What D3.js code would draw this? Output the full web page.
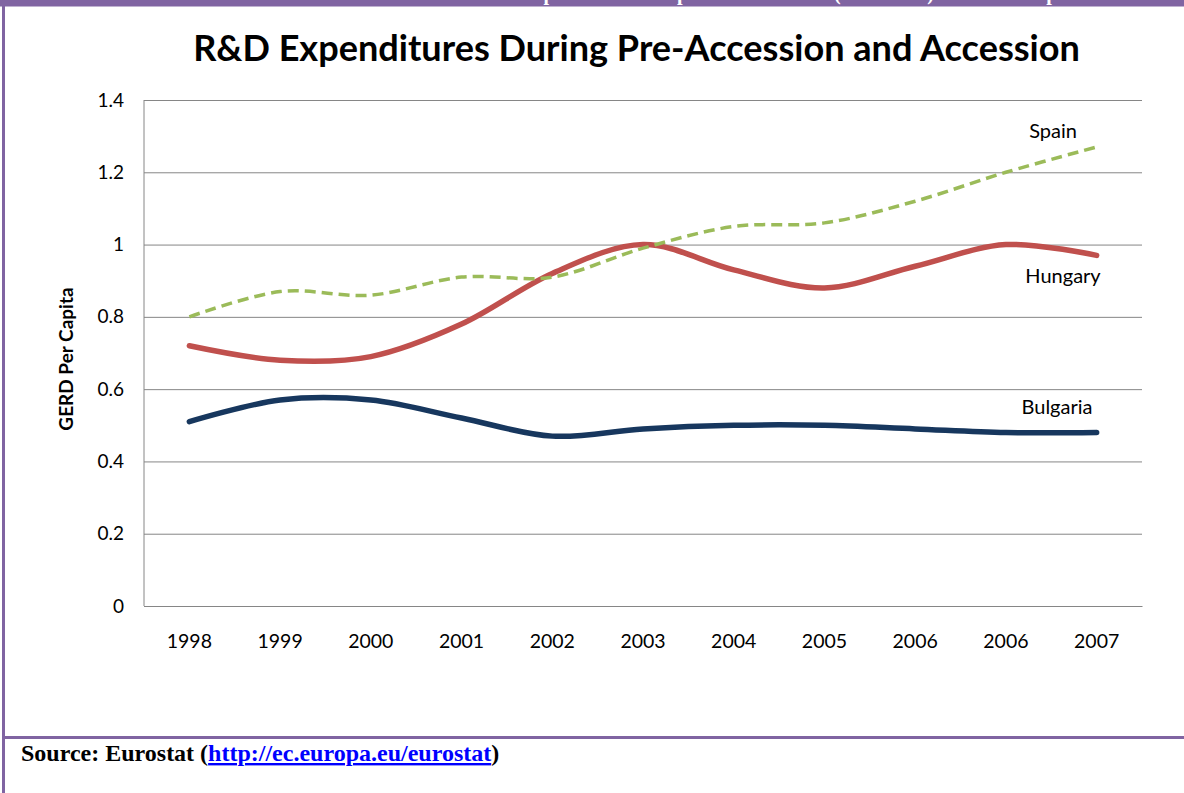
<!DOCTYPE html>
<html>
<head>
<meta charset="utf-8">
<script src="https://cdn.jsdelivr.net/npm/d3@7"></script>
<style>
  html, body { margin: 0; padding: 0; background: #fff; }
  svg { display: block; }
</style>
</head>
<body>
<svg id="page" width="1184" height="793"></svg>
<script>
// Categories along the x axis (the source lists 2006 twice)
const categories = ["1998", "1999", "2000", "2001", "2002", "2003", "2004", "2005", "2006", "2006", "2007"];

// GERD per capita values by country
const spain    = [0.80, 0.87, 0.86, 0.91, 0.91, 0.99, 1.05, 1.06, 1.12, 1.20, 1.27];
const hungary  = [0.72, 0.68, 0.69, 0.78, 0.92, 1.00, 0.93, 0.88, 0.94, 1.00, 0.97];
const bulgaria = [0.51, 0.57, 0.57, 0.52, 0.47, 0.49, 0.50, 0.50, 0.49, 0.48, 0.48];

// Value axis ticks
const yTicks = [0, 0.2, 0.4, 0.6, 0.8, 1, 1.2, 1.4];

const svg = d3.select("#page");
const W = 1184, H = 793;
const purple = "#8064A2";

// ---- Document frame: purple header bar, left rule, source separator ----
svg.append("rect").attr("x", 0).attr("y", 0).attr("width", W).attr("height", 6.5).attr("fill", purple);

// Header caption runs off the top of the page; only descenders remain visible
const header = svg.append("text")
  .attr("y", 0)
  .attr("fill", "#fff")
  .style("font-family", "'Liberation Serif', 'Times New Roman', serif")
  .style("font-weight", "bold")
  .style("font-size", "20px");
header.append("tspan").attr("x", 396).text("Table 3: R&D Expenditures");
header.append("tspan").attr("x", 677).text("per Inhabitant");
header.append("tspan").attr("x", 834).text("(1998-2007)");
header.append("tspan").attr("x", 1005).text("for Spain");

svg.append("rect").attr("x", 2).attr("y", 0).attr("width", 3).attr("height", H).attr("fill", purple);
svg.append("rect").attr("x", 2).attr("y", 736).attr("width", W - 2).attr("height", 3).attr("fill", purple);

// ---- Chart ----
const plot = { left: 144, right: 1142, top: 100, bottom: 606 };

const x = d3.scaleBand()
  .domain(d3.range(categories.length))
  .range([plot.left, plot.right])
  .paddingInner(0).paddingOuter(0);
const xc = i => x(i) + x.bandwidth() / 2;

const y = d3.scaleLinear().domain([0, 1.4]).range([plot.bottom, plot.top]);

const chartFont = "Lato, 'Open Sans', sans-serif";

// Title, sized to span the chart heading width
const title = svg.append("text")
  .attr("x", 636.5).attr("y", 61)
  .attr("text-anchor", "middle")
  .attr("fill", "#000")
  .style("font-family", chartFont)
  .style("font-weight", "bold")
  .style("font-size", "32px")
  .text("R&D Expenditures During Pre-Accession and Accession");
{
  const len = title.node().getComputedTextLength();
  title.style("font-size", (32 * 887 / len).toFixed(2) + "px");
}

// Gridlines + value labels
const yAxis = svg.append("g")
  .attr("transform", `translate(${plot.left},0)`)
  .call(d3.axisLeft(y)
    .tickValues(yTicks)
    .tickSize(-(plot.right - plot.left))
    .tickPadding(20)
    .tickFormat(d => d3.format("~g")(d)));
yAxis.select(".domain").attr("stroke", "#868686").attr("d", `M0,${plot.top}V${plot.bottom}`);
yAxis.selectAll(".tick line").attr("stroke", "#868686").attr("stroke-width", 1);
yAxis.selectAll(".tick text")
  .attr("fill", "#000")
  .style("font-family", chartFont)
  .style("font-size", "19px");

// Category axis
const xAxis = svg.append("g")
  .attr("transform", `translate(0,${plot.bottom})`)
  .call(d3.axisBottom(x)
    .tickSize(0)
    .tickPadding(28)
    .tickFormat(i => categories[i]));
xAxis.select(".domain").attr("stroke", "#868686");
xAxis.selectAll(".tick text")
  .attr("fill", "#000")
  .style("font-family", chartFont)
  .style("font-size", "19.5px");

// Axis title
svg.append("text")
  .attr("transform", "translate(73,359) rotate(-90)")
  .attr("text-anchor", "middle")
  .attr("fill", "#000")
  .style("font-family", chartFont)
  .style("font-weight", "bold")
  .style("font-size", "19px")
  .text("GERD Per Capita");

// Smoothed lines
const line = d3.line()
  .x((d, i) => xc(i))
  .y(d => y(d))
  .curve(d3.curveCatmullRom.alpha(0));

svg.append("path").datum(bulgaria)
  .attr("d", line).attr("fill", "none")
  .attr("stroke", "#17375E").attr("stroke-width", 5.5)
  .attr("stroke-linecap", "round");

svg.append("path").datum(hungary)
  .attr("d", line).attr("fill", "none")
  .attr("stroke", "#C0504D").attr("stroke-width", 5.5)
  .attr("stroke-linecap", "round");

svg.append("path").datum(spain)
  .attr("d", line).attr("fill", "none")
  .attr("stroke", "#9BBB59").attr("stroke-width", 3.5)
  .attr("stroke-dasharray", "11,6");

// Series labels
const seriesLabels = [
  { text: "Spain",    x: 1053, y: 138 },
  { text: "Hungary",  x: 1063, y: 283 },
  { text: "Bulgaria", x: 1057, y: 414 }
];
svg.selectAll("text.series-label")
  .data(seriesLabels)
  .join("text")
  .attr("class", "series-label")
  .attr("x", d => d.x).attr("y", d => d.y)
  .attr("text-anchor", "middle")
  .attr("fill", "#000")
  .style("font-family", chartFont)
  .style("font-size", "20px")
  .text(d => d.text);

// ---- Source line ----
const source = svg.append("text")
  .attr("x", 21).attr("y", 761)
  .attr("fill", "#000")
  .style("font-family", "'Liberation Serif', 'Times New Roman', serif")
  .style("font-weight", "bold")
  .style("font-size", "24px");
source.append("tspan").text("Source: Eurostat (");
source.append("tspan")
  .attr("fill", "#0000FF")
  .style("text-decoration", "underline")
  .text("http://ec.europa.eu/eurostat");
source.append("tspan").text(")");
</script>
</body>
</html>
